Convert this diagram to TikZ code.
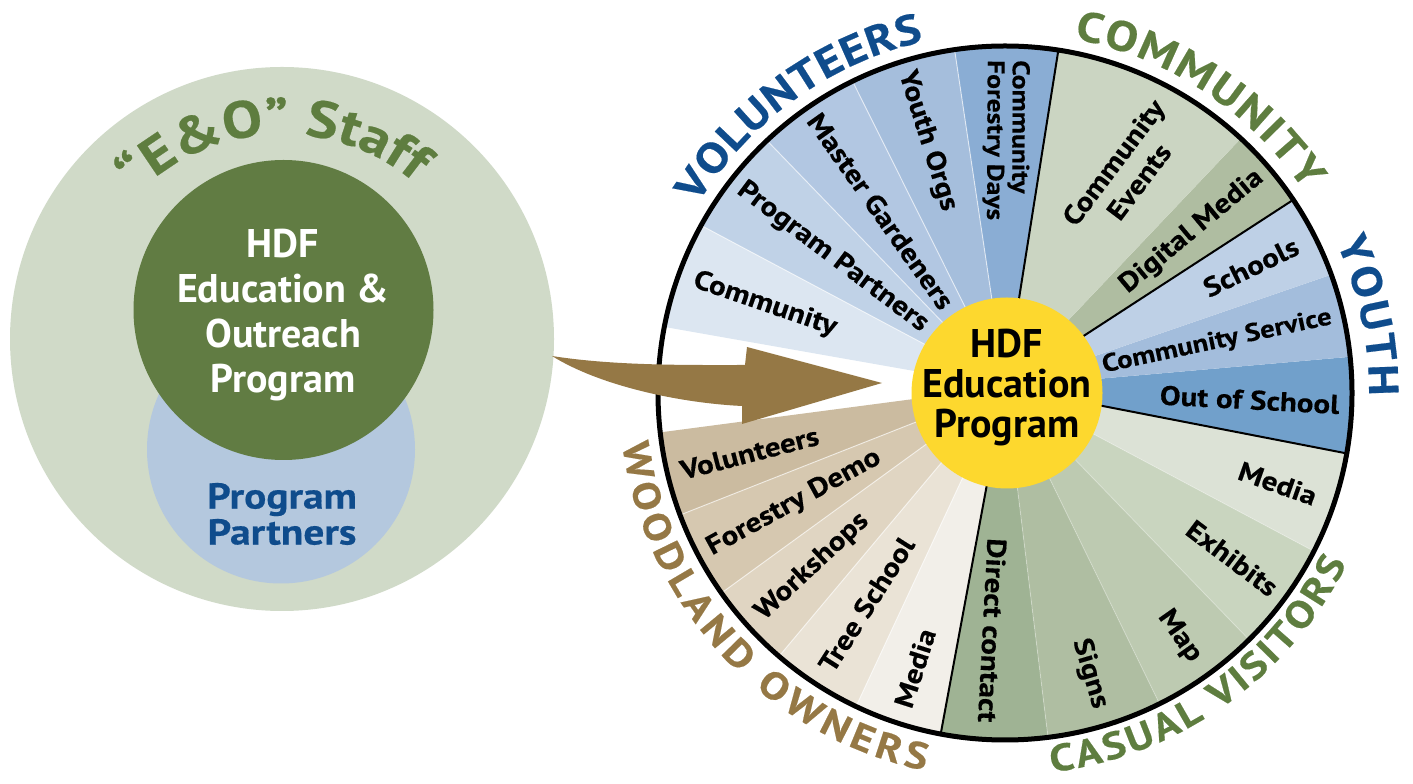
\documentclass[tikz,border=0pt]{standalone}
\usepackage{fontspec}
\setmainfont{PT Sans}
\newfontfamily\labfont{PT Sans}[FakeStretch=1.15, FakeBold=0.4]
\usetikzlibrary{decorations.text}

% palette
\definecolor{staffbg}{HTML}{D0DAC8}
\definecolor{partnerbg}{HTML}{B4C8DE}
\definecolor{eogreen}{HTML}{617C43}
\definecolor{catgreen}{HTML}{5E7D3F}
\definecolor{catblue}{HTML}{0F4C8C}
\definecolor{catbrown}{HTML}{957845}
\definecolor{hubyellow}{HTML}{FDD82E}
% youth
\definecolor{sOut}{HTML}{71A0CB}
\definecolor{sServ}{HTML}{A3BDDC}
\definecolor{sSchool}{HTML}{BED0E6}
% community
\definecolor{sDigital}{HTML}{AFBDA1}
\definecolor{sEvents}{HTML}{CBD5C2}
% volunteers
\definecolor{sCFD}{HTML}{8AADD4}
\definecolor{sYouth}{HTML}{A5BEDC}
\definecolor{sMaster}{HTML}{B2C7E2}
\definecolor{sPartner}{HTML}{C0D2E7}
\definecolor{sComm}{HTML}{DCE6F1}
% woodland owners
\definecolor{sVol}{HTML}{CBBBA0}
\definecolor{sDemo}{HTML}{D6C8B0}
\definecolor{sWork}{HTML}{E0D5C2}
\definecolor{sTree}{HTML}{EAE3D6}
\definecolor{sWMedia}{HTML}{F2EFE9}
% casual visitors
\definecolor{sDirect}{HTML}{9FB394}
\definecolor{sSigns}{HTML}{AFBEA2}
\definecolor{sMap}{HTML}{BDCAB1}
\definecolor{sExhib}{HTML}{C9D5BF}
\definecolor{sCMedia}{HTML}{DCE2D6}

\tikzset{
  seclabel/.style={inner sep=0pt, font=\labfont\fontsize{27}{30}\selectfont\bfseries},
  rlab/.style={seclabel, anchor=east},
  llab/.style={seclabel, anchor=west},
}

\begin{document}
\begin{tikzpicture}[x=1pt,y=1pt]
\useasboundingbox (0,0) rectangle (1413,784);

% ---------- staff / program / partners circles ----------
\fill[staffbg] (282,445) circle (272);
\fill[partnerbg] (281,334.5) circle (134);
\fill[eogreen] (283.5,474) circle (150);
\node[text=white, align=center, inner sep=0pt,
      font=\fontsize{40}{45}\selectfont\bfseries] (eoprog) at (283,469)
      {HDF\\Education \&\\Outreach\\Program};
\node[text=catblue, align=center, inner sep=0pt,
      font=\labfont\fontsize{36}{36}\selectfont\bfseries] (partners) at (282,270)
      {Program\\Partners};
\path[decorate, decoration={text along path, text align=fit to path, text color=catgreen,
      text={|\labfont\fontsize{52}{52}\selectfont\bfseries|“E{\&}O” Staff}}]
      (282,445) ++(135:205) arc[start angle=135, end angle=50, radius=205];

% ---------- wheel sectors ----------
\coordinate (hub) at (1005,397);
\coordinate (rim) at (1005,391);
\begin{scope}
  \clip (rim) circle (347);
  \foreach \a/\b/\c in {
      349/365/sOut, 5/19/sServ, 19/33/sSchool,
      33/46.5/sDigital, 46.5/81/sEvents,
      81/98.5/sCFD, 98.5/116.5/sYouth, 116.5/134/sMaster, 134/152/sPartner, 152/170/sComm,
      187.5/201.5/sVol, 201.5/216/sDemo, 216/230/sWork, 230/245/sTree, 245/259.5/sWMedia,
      259.5/277/sDirect, 277/296/sSigns, 296/314/sMap, 314/332/sExhib, 332/349/sCMedia}
    \fill[\c] (hub) -- ++(\a:600) arc[start angle=\a, end angle=\b, radius=600] -- cycle;
  % faint dividers inside a group
  \foreach \a in {98.5,116.5,134,152,201.5,216,230,245}
    \draw[white, opacity=0.6, line width=1pt] (hub) -- ++(\a:600);
  \foreach \a in {277,296,314,332}
    \draw[white, opacity=0.25, line width=1pt] (hub) -- ++(\a:600);
  % dividers between groups
  \foreach \a in {33,81,259.5,349}
    \draw[black, line width=2pt] (hub) -- ++(\a:600);
\end{scope}
\draw[line width=5pt] (rim) circle (347);

% ---------- hub ----------
\fill[hubyellow] (1007,391) circle (95.5);
\node[align=center, inner sep=0pt, font=\fontsize{40}{40}\selectfont\bfseries] (hubtext)
  at (1007,396) {HDF\\Education\\Program};

% ---------- sector labels ----------
% youth
\path (hub) ++(357:335) node[rlab, rotate=357] (outsch) {Out of School};
\path (hub) ++(12:334) node[rlab, rotate=12, font=\labfont\fontsize{25}{28}\selectfont\bfseries] (commserv) {Community Service};
\path (hub) ++(26:325) node[rlab, rotate=26] (schools) {Schools};
% community
\path (hub) ++(39.75:332) node[rlab, rotate=39.75] (digmedia) {Digital Media};
\node[seclabel, align=center, rotate=53, font=\labfont\fontsize{27}{32}\selectfont\bfseries] (events)
  at (1126,612) {Community\\Events};
% volunteers
\path (hub) ++(89.75:327) node[llab, rotate=-90.25, align=left,
  font=\labfont\fontsize{24}{25}\selectfont\bfseries] (cfd) {Community\\Forestry Days};
\path (hub) ++(107.5:331) node[llab, rotate=-72.5] (youthorgs) {Youth Orgs};
\path (hub) ++(125.25:332) node[llab, rotate=-54.75] (master) {Master Gardeners};
\path (hub) ++(143:332) node[llab, rotate=-37] (progpart) {Program Partners};
\path (hub) ++(161:329) node[llab, rotate=-19] (community) {Community};
% woodland owners
\path (hub) ++(194.5:335) node[llab, rotate=14.5] (volunteers) {Volunteers};
\path (hub) ++(208.75:338) node[llab, rotate=28.75] (demo) {Forestry Demo};
\path (hub) ++(223:336) node[llab, rotate=43] (workshops) {Workshops};
\path (hub) ++(237.5:335) node[llab, rotate=57.5] (treeschool) {Tree School};
\path (hub) ++(252.25:336) node[llab, rotate=72.25] (wmedia) {Media};
% casual visitors
\path (hub) ++(267:336) node[rlab, rotate=267] (direct) {Direct contact};
\path (hub) ++(286.5:335) node[rlab, rotate=286.5] (signs) {Signs};
\path (hub) ++(305:333) node[rlab, rotate=305] (map) {Map};
\path (hub) ++(323:338) node[rlab, rotate=323] (exhibits) {Exhibits};
\path (hub) ++(340.5:330) node[rlab, rotate=340.5] (cmedia) {Media};

% ---------- audience names around the wheel ----------
\path[decorate, decoration={text along path, text align=fit to path, text color=catblue,
      text={|\labfont\fontsize{42}{42}\selectfont\bfseries|VOLUNTEERS}}]
      (rim) ++(148.5:361) arc[start angle=148.5, end angle=103, radius=361];
\path[decorate, decoration={text along path, text align=fit to path, text color=catgreen,
      text={|\labfont\fontsize{42}{42}\selectfont\bfseries|COMMUNITY}}]
      (rim) ++(79:361) arc[start angle=79, end angle=34, radius=361];
\path[decorate, decoration={text along path, text align=fit to path, text color=catblue,
      text={|\labfont\fontsize{42}{42}\selectfont\bfseries|YOUTH}}]
      (rim) ++(24.5:364) arc[start angle=24.5, end angle=-0.5, radius=364];
\path[decorate, decoration={text along path, text align=fit to path, text color=catgreen,
      text={|\labfont\fontsize{38}{38}\selectfont\bfseries|CASUAL VISITORS}}]
      (rim) ++(-83:382) arc[start angle=-83, end angle=-26.5, radius=382];
\path[decorate, decoration={text along path, text align=fit to path, text color=catbrown,
      text={|\labfont\fontsize{38}{38}\selectfont\bfseries|WOODLAND OWNERS}}]
      (rim) ++(187.6:386) arc[start angle=187.6, end angle=258, radius=386];

% ---------- arrow from the staff circle into the wheel ----------
\fill[catbrown] (552,428) .. controls (615,418) and (690,419) .. (745,419)
  -- (747,437) -- (882,401) -- (742,360) -- (742,378)
  .. controls (680,381) and (600,398) .. (552,428) -- cycle;
\end{tikzpicture}
\end{document}
